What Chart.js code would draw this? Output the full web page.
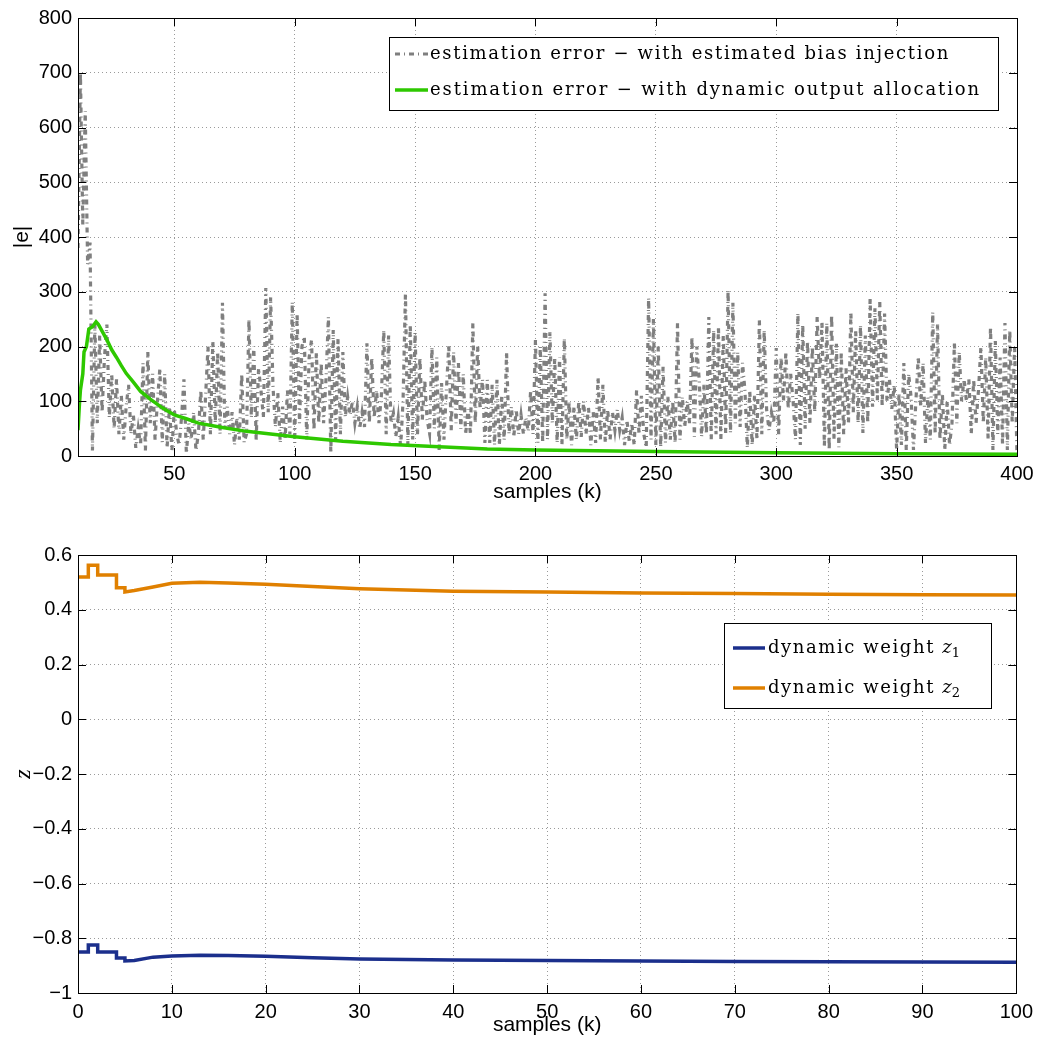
<!DOCTYPE html>
<html>
<head>
<meta charset="utf-8">
<script src="https://cdn.jsdelivr.net/npm/chart.js@4.4.1/dist/chart.umd.min.js"></script>
<style>
  body { margin: 0; background: #fff; }
  canvas { display: block; }
</style>
</head>
<body>
<canvas id="errChart" width="1040" height="510"></canvas>
<canvas id="zChart" width="1040" height="536"></canvas>
<script>
// values

// grey trace, one value per sample starting at sample 10
const biasStart = 10;
const biasErr = [
  380, 700, 420, 630, 350, 390, 10, 240, 60, 220,
  80, 180, 240, 70, 150, 50, 140, 40, 110, 30,
  90, 130, 40, 75, 15, 50, 20, 170, 10, 190,
  60, 150, 30, 100, 160, 25, 150, 15, 90, 10,
  85, 40, 20, 70, 140, 5, 60, 30, 80, 10,
  40, 120, 30, 110, 200, 40, 210, 60, 190, 40,
  280, 50, 90, 40, 80, 20, 70, 30, 150, 25,
  40, 250, 70, 200, 30, 160, 120, 70, 307, 80,
  290, 126, 53, 115, 24, 90, 30, 120, 40, 281,
  24, 260, 60, 200, 218, 30, 180, 212, 47, 190,
  60, 170, 60, 140, 254, 5, 230, 29, 215, 40,
  190, 71, 108, 75, 100, 60, 90, 50, 80, 53,
  206, 60, 180, 70, 120, 60, 110, 230, 40, 220,
  60, 78, 35, 70, 16, 100, 297, 20, 240, 30,
  226, 40, 180, 66, 139, 66, 42, 199, 50, 180,
  11, 133, 30, 120, 203, 47, 190, 60, 170, 50,
  150, 40, 85, 40, 243, 60, 200, 86, 140, 24,
  139, 24, 130, 20, 139, 20, 110, 29, 190, 40,
  90, 35, 85, 40, 75, 40, 70, 45, 120, 40,
  212, 24, 200, 24, 297, 30, 226, 60, 180, 24,
  180, 20, 215, 30, 100, 20, 90, 30, 100, 35,
  100, 40, 90, 20, 80, 24, 144, 30, 130, 24,
  85, 30, 80, 47, 85, 47, 70, 20, 65, 25,
  60, 20, 120, 40, 110, 40, 16, 289, 30, 250,
  20, 200, 16, 163, 24, 108, 30, 100, 24, 243,
  30, 108, 53, 100, 60, 218, 35, 200, 140, 35,
  130, 40, 254, 30, 230, 40, 236, 30, 220, 42,
  303, 42, 280, 60, 190, 53, 170, 120, 15, 120,
  20, 110, 30, 248, 40, 230, 85, 47, 80, 60,
  197, 40, 180, 100, 190, 86, 150, 100, 30, 261,
  20, 240, 50, 210, 60, 200, 80, 254, 140, 245,
  16, 243, 11, 258, 30, 205, 16, 190, 40, 160,
  60, 263, 80, 230, 60, 239, 42, 220, 60, 289,
  90, 270, 100, 281, 90, 260, 100, 140, 86, 130,
  11, 115, 20, 170, 11, 150, 108, 11, 100, 181,
  90, 170, 24, 108, 30, 263, 40, 240, 30, 115,
  11, 100, 20, 60, 208, 60, 190, 100, 140, 100,
  140, 40, 140, 60, 120, 199, 60, 180, 30, 236,
  11, 210, 40, 180, 20, 243, 11, 230, 60, 200,
  0
];

// green trace
const dynSamples = [10, 10.6, 11, 12, 12.5, 13.5, 14.5, 16, 17.5, 18.5, 20, 22, 24, 26, 28, 30, 33, 36, 40, 45, 50, 55, 60, 70, 80, 90, 100, 120, 140, 160, 180, 200, 250, 300, 350, 400];
const dynErr = [47, 95, 120, 150, 190, 200, 232, 236, 245, 240, 228, 212, 194, 180, 165, 151, 135, 118, 104, 88, 75, 68, 60, 52, 45, 40, 35, 27, 21, 17, 13, 11, 8, 6, 4, 3];

// dynamic weights
const zSamples = [0, 1.1, 1.1, 2.1, 2.1, 4.1, 4.1, 5, 5, 6, 8, 10, 13, 16, 20, 25, 30, 40, 50, 60, 70, 80, 90, 100];
const z1 = [-0.85, -0.85, -0.825, -0.825, -0.85, -0.85, -0.872, -0.872, -0.883, -0.881, -0.869, -0.865, -0.862, -0.863, -0.866, -0.871, -0.876, -0.879, -0.881, -0.883, -0.885, -0.886, -0.887, -0.888];
const z2 = [0.52, 0.52, 0.563, 0.563, 0.527, 0.527, 0.48, 0.48, 0.465, 0.47, 0.483, 0.497, 0.5, 0.498, 0.493, 0.485, 0.477, 0.468, 0.465, 0.461, 0.459, 0.457, 0.455, 0.454];

const errTicksX = [50, 100, 150, 200, 250, 300, 350, 400];

const SANS = '"Liberation Sans", Arial, sans-serif';
const SERIF = '"DejaVu Serif", "Liberation Serif", serif';
const GREY_DASH = [5, 4, 1, 4];

const pts = (xs, ys) => ys.map((y, i) => ({x: xs[i], y: y}));

function partFont(p, size) {
  return (p.italic ? 'italic ' : '') + (p.sub ? Math.round(size * 0.7) : size) + 'px ' + SERIF;
}

function drawLegend(ctx, lg) {
  ctx.fillStyle = '#fff';
  ctx.fillRect(lg.x, lg.y, lg.w, lg.h);
  ctx.strokeStyle = '#000';
  ctx.lineWidth = 1;
  ctx.strokeRect(lg.x + 0.5, lg.y + 0.5, lg.w, lg.h);
  lg.items.forEach(it => {
    ctx.save();
    ctx.strokeStyle = it.color;
    ctx.lineWidth = it.width;
    ctx.setLineDash(it.dash || []);
    ctx.beginPath();
    ctx.moveTo(lg.x + lg.line[0], it.y);
    ctx.lineTo(lg.x + lg.line[1], it.y);
    ctx.stroke();
    ctx.restore();

    // stretch the first text part so the row has the reference width
    ctx.letterSpacing = '0px';
    let plain = 0;
    it.parts.forEach(p => { ctx.font = partFont(p, lg.size); plain += ctx.measureText(p.text).width; });
    const spacing = Math.max(0, (it.textW - plain) / it.parts[0].text.length);

    let x = lg.textX;
    ctx.fillStyle = '#000';
    ctx.textBaseline = 'alphabetic';
    ctx.textAlign = 'left';
    it.parts.forEach((p, i) => {
      ctx.font = partFont(p, lg.size);
      ctx.letterSpacing = (i === 0 ? spacing : 0) + 'px';
      ctx.fillText(p.text, x, it.y + lg.base + (p.sub ? 4 : 0));
      x += ctx.measureText(p.text).width;
    });
    ctx.letterSpacing = '0px';
  });
}

// MATLAB style box with inward ticks, plus the legend
const frameTicks = {
  id: 'frameTicks',
  afterDatasetsDraw(chart, args, opts) {
    const {ctx, chartArea: a, scales} = chart;
    ctx.save();
    ctx.strokeStyle = '#000';
    ctx.lineWidth = 1;
    ctx.beginPath();
    scales.x.ticks.forEach(t => {
      const px = Math.round(scales.x.getPixelForValue(t.value)) + 0.5;
      ctx.moveTo(px, a.bottom); ctx.lineTo(px, a.bottom - 8);
      ctx.moveTo(px, a.top); ctx.lineTo(px, a.top + 8);
    });
    scales.y.ticks.forEach(t => {
      const py = Math.round(scales.y.getPixelForValue(t.value)) + 0.5;
      ctx.moveTo(a.left, py); ctx.lineTo(a.left + 8, py);
      ctx.moveTo(a.right, py); ctx.lineTo(a.right - 8, py);
    });
    ctx.stroke();
    ctx.strokeRect(Math.round(a.left) + 0.5, Math.round(a.top) + 0.5, Math.round(a.width), Math.round(a.height));
    if (opts.legend) drawLegend(ctx, opts.legend);
    ctx.restore();
  }
};

const tickFont = {family: SANS, size: 20};
const titleFont = {family: SANS, size: 21};

function baseScales(xOpts, yOpts, xHeight) {
  return {
    x: Object.assign({
      type: 'linear',
      grid: {color: '#9a9a9a', lineWidth: 1, drawTicks: false},
      border: {display: false, dash: [1, 3]},
      afterFit: s => { s.height = xHeight; }
    }, xOpts),
    y: Object.assign({
      type: 'linear',
      grid: {color: '#9a9a9a', lineWidth: 1, drawTicks: false},
      border: {display: false, dash: [1, 3]},
      afterFit: s => { s.width = 78; }
    }, yOpts)
  };
}

new Chart(document.getElementById('errChart'), {
  type: 'line',
  data: {
    datasets: [{
      label: 'estimation error \u2212 with dynamic output allocation',
      data: pts(dynSamples, dynErr),
      borderColor: '#2ec800',
      borderWidth: 3.5,
      pointRadius: 0,
      order: 0
    }, {
      label: 'estimation error \u2212 with estimated bias injection',
      data: biasErr.map((v, i) => ({x: biasStart + i, y: v})),
      borderColor: '#7f7f7f',
      borderWidth: 3.2,
      borderDash: GREY_DASH,
      pointRadius: 0,
      order: 1
    }]
  },
  options: {
    responsive: false,
    animation: false,
    layout: {padding: {top: 18, right: 23, left: 0, bottom: 0}},
    scales: baseScales(
      {min: 10, max: 400,
       ticks: {color: '#000', font: tickFont, padding: 6, maxRotation: 0, stepSize: 50},
       title: {display: true, text: 'samples (k)', color: '#000', font: titleFont, padding: {top: 0, bottom: 5}},
       afterBuildTicks: s => { s.ticks = errTicksX.map(v => ({value: v})); }},
      {min: 0, max: 800,
       ticks: {color: '#000', font: tickFont, padding: 6, stepSize: 100},
       title: {display: true, text: '|e|', color: '#000', font: titleFont, padding: {top: 10, bottom: 0}}},
      54),
    plugins: {
      legend: {display: false},
      tooltip: {enabled: false},
      frameTicks: {
        legend: {
          x: 389, y: 37, w: 609, h: 73, line: [6, 39], textX: 430, size: 18, base: 5,
          items: [
            {y: 54, textW: 520, color: '#7f7f7f', width: 3.2, dash: GREY_DASH, parts: [{text: 'estimation error \u2212 with estimated bias injection'}]},
            {y: 90, textW: 551, color: '#2ec800', width: 3.5, parts: [{text: 'estimation error \u2212 with dynamic output allocation'}]}
          ]
        }
      }
    }
  },
  plugins: [frameTicks]
});

new Chart(document.getElementById('zChart'), {
  type: 'line',
  data: {
    datasets: [{
      label: 'dynamic weight z1',
      data: pts(zSamples, z1),
      borderColor: '#1b2f8c',
      borderWidth: 3.5,
      pointRadius: 0
    }, {
      label: 'dynamic weight z2',
      data: pts(zSamples, z2),
      borderColor: '#e08000',
      borderWidth: 3.5,
      pointRadius: 0
    }]
  },
  options: {
    responsive: false,
    animation: false,
    layout: {padding: {top: 45, right: 23, left: 0, bottom: 0}},
    scales: baseScales(
      {min: 0, max: 100,
       ticks: {color: '#000', font: tickFont, padding: 7, maxRotation: 0, stepSize: 10},
       title: {display: true, text: 'samples (k)', color: '#000', font: titleFont, padding: {top: 0, bottom: 8}}},
      {min: -1, max: 0.6,
       ticks: {color: '#000', font: tickFont, padding: 6, stepSize: 0.2,
               callback: v => String(Math.round(v * 10) / 10).replace('-', '\u2212')},
       title: {display: true, text: 'z', color: '#000', font: {family: '"Liberation Serif", serif', size: 24, style: 'italic'}, padding: {top: 9, bottom: 0}}},
      53),
    plugins: {
      legend: {display: false},
      tooltip: {enabled: false},
      frameTicks: {
        legend: {
          x: 724, y: 113, w: 267, h: 85, line: [9, 41], textX: 768, size: 18, base: 5,
          items: [
            {y: 138, textW: 192, color: '#1b2f8c', width: 3.5, parts: [{text: 'dynamic weight '}, {text: 'z', italic: true}, {text: '1', sub: true}]},
            {y: 178, textW: 192, color: '#e08000', width: 3.5, parts: [{text: 'dynamic weight '}, {text: 'z', italic: true}, {text: '2', sub: true}]}
          ]
        }
      }
    }
  },
  plugins: [frameTicks]
});
</script>
</body>
</html>
